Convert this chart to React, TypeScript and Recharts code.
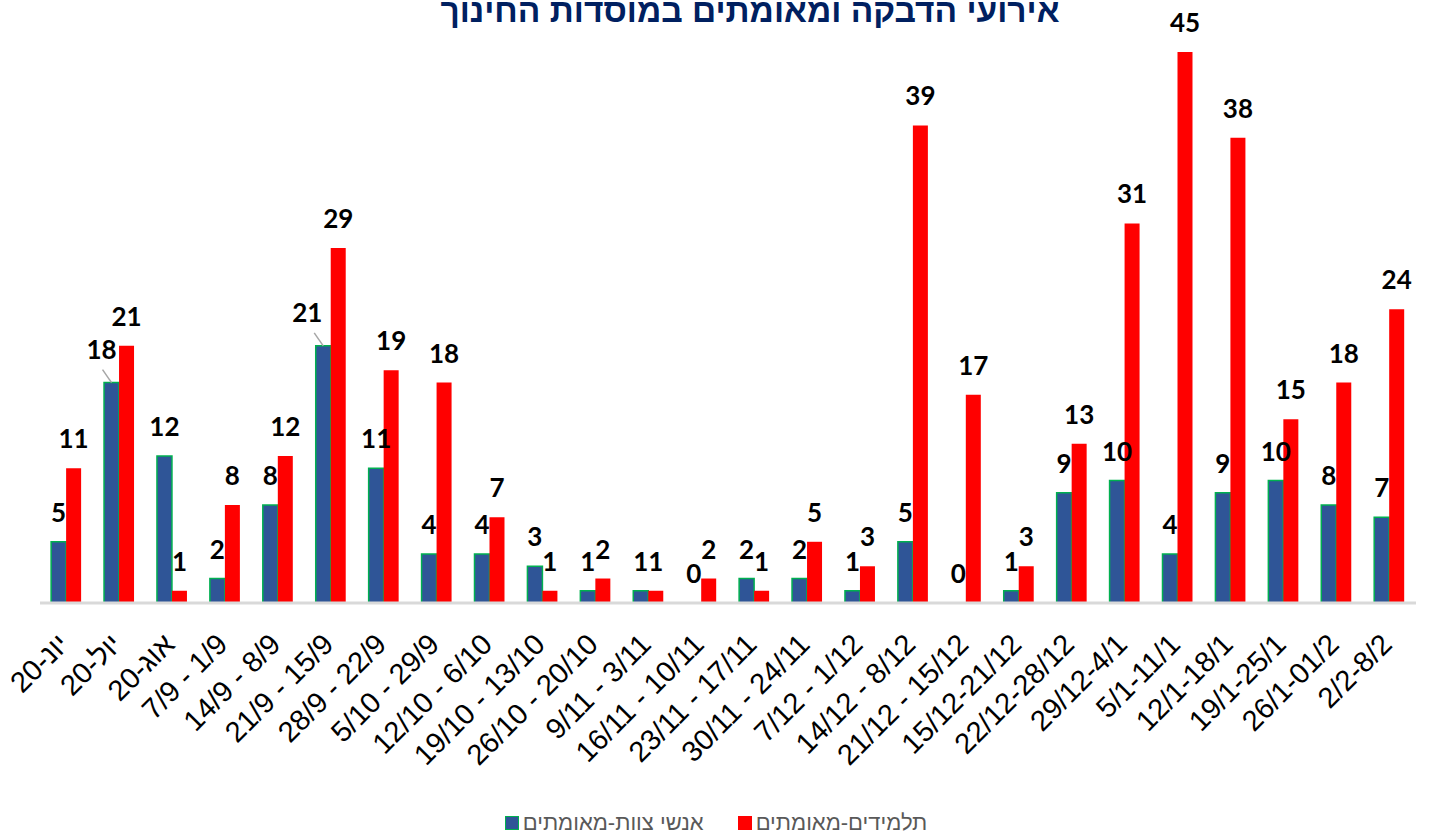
import React from "react";
import { BarChart, Bar, XAxis, YAxis, LabelList, Rectangle } from "recharts";

const weeks = [
  "יונ-20",
  "יול-20",
  "אוג-20",
  "7/9 - 1/9",
  "14/9 - 8/9",
  "21/9 - 15/9",
  "28/9 - 22/9",
  "5/10 - 29/9",
  "12/10 - 6/10",
  "19/10 - 13/10",
  "26/10 - 20/10",
  "9/11 - 3/11",
  "16/11 - 10/11",
  "23/11 - 17/11",
  "30/11 - 24/11",
  "7/12 - 1/12",
  "14/12 - 8/12",
  "21/12 - 15/12",
  "15/12-21/12",
  "22/12-28/12",
  "29/12-4/1",
  "5/1-11/1",
  "12/1-18/1",
  "19/1-25/1",
  "26/1-01/2",
  "2/2-8/2",
];

const staffConfirmed = [5, 18, 12, 2, 8, 21, 11, 4, 4, 3, 1, 1, 0, 2, 2, 1, 5, 0, 1, 9, 10, 4, 9, 10, 8, 7];
const studentsConfirmed = [11, 21, 1, 8, 12, 29, 19, 18, 7, 1, 2, 1, 2, 1, 5, 3, 39, 17, 3, 13, 31, 45, 38, 15, 18, 24];

const STAFF_NAME = "אנשי צוות-מאומתים";
const STUDENTS_NAME = "תלמידים-מאומתים";

const chartData = weeks.map((week, i) => ({
  week,
  staff: staffConfirmed[i],
  students: studentsConfirmed[i],
}));

const STAFF_FILL = "#2F5597";
const STAFF_BORDER = "#00B050";
const STUDENTS_FILL = "#FF0000";

// labels that excel pushed aside (with a leader line)
const movedStaffLabels: Record<number, { dx: number; dy: number }> = {
  1: { dx: -10, dy: -4 },
  5: { dx: -16, dy: -4 },
};

const labelStyle = {
  fontFamily: "Lato, 'Noto Sans', sans-serif",
  fontWeight: 700,
  fontSize: 26,
  fill: "#000",
};

const StaffLabel = (props: any) => {
  const { x, y, width, value, index } = props;
  const cx = x + width / 2;
  const moved = movedStaffLabels[index];
  if (moved) {
    return (
      <g>
        <line
          x1={cx - 9}
          y1={y - 13}
          x2={cx}
          y2={y}
          stroke="#A6A6A6"
          strokeWidth={1.5}
        />
        <text x={cx + moved.dx} y={y - 20 + moved.dy} textAnchor="middle" {...labelStyle}>
          {value}
        </text>
      </g>
    );
  }
  return (
    <text x={cx} y={y - 20} textAnchor="middle" {...labelStyle}>
      {value}
    </text>
  );
};

const StudentLabel = (props: any) => {
  const { x, y, width, value } = props;
  return (
    <text x={x + width / 2} y={y - 20} textAnchor="middle" {...labelStyle}>
      {value}
    </text>
  );
};

// zero bars get a tiny min size so their "0" label still shows; draw nothing for them
const StaffShape = (props: any) => {
  if (!props.height || props.height < 0.5) return <g />;
  return <Rectangle {...props} />;
};

const WeekTick = ({ x, y, payload }: any) => (
  <g transform={`translate(${x + 4},${y + 43})`}>
    <text
      textAnchor="end"
      transform="rotate(-45)"
      fontFamily="'Liberation Sans', Arial, sans-serif"
      fontSize={29}
      fill="#000"
    >
      {payload.value}
    </text>
  </g>
);

export default function App() {
  return (
    <div
      style={{
        position: "absolute",
        left: 0,
        top: 0,
        width: 1432,
        height: 840,
        background: "#fff",
        overflow: "hidden",
      }}
    >
      {/* Title (cut at the top in the original) */}
      <div
        style={{
          position: "absolute",
          left: 750,
          top: -6,
          transform: "translateX(-50%)",
          whiteSpace: "nowrap",
          fontFamily: "'Liberation Sans', Arial, sans-serif",
          fontWeight: 700,
          fontSize: 33.5,
          lineHeight: "33px",
          color: "#002060",
        }}
      >
        אירועי הדבקה ומאומתים במוסדות החינוך
      </div>

      <BarChart
        width={1432}
        height={840}
        data={chartData}
        margin={{ top: 52, right: 16, bottom: 207, left: 40 }}
        barCategoryGap="21%"
        barGap={0}
      >
        <XAxis
          dataKey="week"
          height={30}
          interval={0}
          tickLine={false}
          tickSize={0}
          tickMargin={0}
          axisLine={{ stroke: "#D9D9D9", strokeWidth: 3 }}
          tick={<WeekTick />}
        />
        <YAxis hide domain={[0, 45]} />
        <Bar
          dataKey="staff"
          name={STAFF_NAME}
          fill={STAFF_FILL}
          stroke={STAFF_BORDER}
          strokeWidth={1.5}
          minPointSize={0.1}
          shape={<StaffShape />}
          isAnimationActive={false}
        >
          <LabelList dataKey="staff" content={<StaffLabel />} />
        </Bar>
        <Bar
          dataKey="students"
          name={STUDENTS_NAME}
          fill={STUDENTS_FILL}
          isAnimationActive={false}
        >
          <LabelList dataKey="students" content={<StudentLabel />} />
        </Bar>
      </BarChart>

      {/* Legend */}
      <div
        style={{
          position: "absolute",
          left: 0,
          top: 810,
          width: 1432,
          display: "flex",
          justifyContent: "center",
          alignItems: "center",
          gap: 34,
          fontFamily: "'Liberation Sans', Arial, sans-serif",
          fontSize: 22,
          color: "#595959",
        }}
      >
        {[
          { name: STAFF_NAME, fill: STAFF_FILL, border: STAFF_BORDER },
          { name: STUDENTS_NAME, fill: STUDENTS_FILL, border: STUDENTS_FILL },
        ].map((item) => (
          <div key={item.name} style={{ display: "flex", alignItems: "center", gap: 4 }}>
            <span
              style={{
                display: "inline-block",
                width: 12,
                height: 12,
                background: item.fill,
                border: `1.5px solid ${item.border}`,
              }}
            />
            <span>{item.name}</span>
          </div>
        ))}
      </div>
    </div>
  );
}
